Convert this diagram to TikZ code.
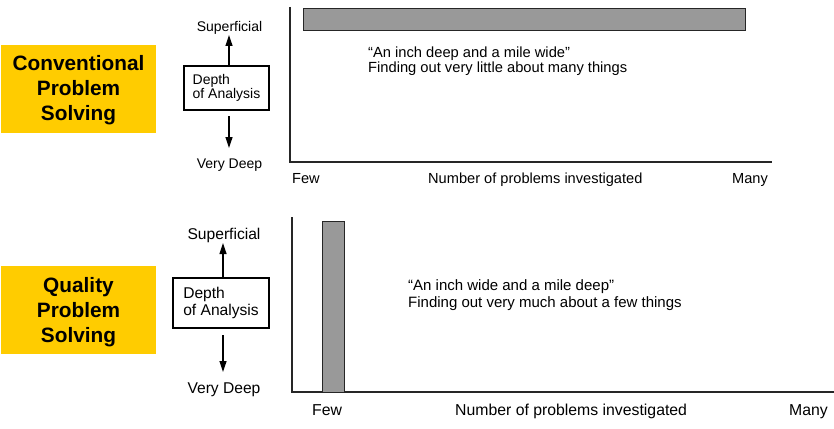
\documentclass[tikz,border=0pt]{standalone}
\usepackage{fontspec}
\setmainfont{Liberation Sans}
\usetikzlibrary{arrows.meta}
\definecolor{gold}{HTML}{FFCC00}
\definecolor{bargray}{HTML}{999999}
\begin{document}
\begin{tikzpicture}[x=1pt,y=-1pt,
  banner/.style={fill=gold, inner sep=0pt, align=center, text=black,
    font=\bfseries\fontsize{20.8}{25}\selectfont, minimum width=155pt, minimum height=88pt},
  depthbox/.style={draw=black, line width=1.1pt, inner sep=0pt, align=left},
  barbox/.style={draw=black!85, line width=1pt, fill=bargray, inner sep=0pt},
  txt/.style={inner sep=0pt, anchor=base},
  txtl/.style={inner sep=0pt, anchor=base west, align=left},
  axisline/.style={line width=1.5pt, black!85},
  depthArrow/.style={line width=1.2pt, -{Triangle[length=11pt,width=7pt]}},
  topfont/.style={font=\fontsize{14}{14}\selectfont},
  botfont/.style={font=\fontsize{15.6}{17}\selectfont}
]
\useasboundingbox (0,0) rectangle (834,428);

% ---------- Conventional problem solving ----------
\fill[gold] (1,45) rectangle (156,133);
\node[banner, fill=none] (convbanner) at (78.5,90.5) {Conventional\\Problem\\Solving};

\node[depthbox, topfont, minimum width=85pt, minimum height=44pt] (dtop) at (226.5,88) {Depth\\of Analysis};
\node[txt, topfont] (suptop) at (229.5,32) {Superficial};
\node[txt, topfont] (deeptop) at (229.5,168) {Very Deep};
\coordinate (suptopTip) at (229,35);
\coordinate (deeptopStart) at (229,116);
\coordinate (deeptopTip) at (229,148);
\draw[depthArrow] (dtop.north -| suptopTip) -- (suptopTip);
\draw[depthArrow] (deeptopStart) -- (deeptopTip);

\coordinate (topYtop) at (290,7);
\coordinate (topOrigin) at (290,162);
\coordinate (topXend) at (772,162);
\draw[axisline] (topYtop) -- (topOrigin) -- (topXend);

\node[barbox, minimum width=442pt, minimum height=22pt] (topbar) at (524,20) {};

% base anchor of a two-line node sits on the last line
\node[txtl, font=\fontsize{14.7}{15}\selectfont] (topquote) at (368,72)
  {“An inch deep and a mile wide”\\Finding out very little about many things};

\node[txtl, font=\fontsize{14.6}{15}\selectfont] (topfew) at (292,183) {Few};
\node[txtl, font=\fontsize{14.6}{15}\selectfont] (topnum) at (428,183) {Number of problems investigated};
\node[txtl, font=\fontsize{14.6}{15}\selectfont] (topmany) at (732,183) {Many};

% ---------- Quality problem solving ----------
\fill[gold] (1,266) rectangle (156,354);
\node[banner, fill=none] (qualbanner) at (78.5,312) {Quality\\Problem\\Solving};

\node[depthbox, botfont, minimum width=96pt, minimum height=50pt] (dbot) at (221,303) {Depth\\of Analysis};
\node[txt, botfont] (supbot) at (224,239) {Superficial};
\node[txt, botfont] (deepbot) at (224,393) {Very Deep};
\coordinate (supbotTip) at (223,243);
\coordinate (deepbotStart) at (223,335);
\coordinate (deepbotTip) at (223,372);
\draw[depthArrow] (dbot.north -| supbotTip) -- (supbotTip);
\draw[depthArrow] (deepbotStart) -- (deepbotTip);

\coordinate (botYtop) at (292,217);
\coordinate (botOrigin) at (292,392);
\coordinate (botXend) at (834,392);
\draw[axisline] (botYtop) -- (botOrigin) -- (botXend);

\node[barbox, minimum width=22pt, minimum height=171pt] (botbar) at (333,306.5) {};

\node[txtl, font=\fontsize{15}{17}\selectfont] (botquote) at (408,307)
  {“An inch wide and a mile deep”\\Finding out very much about a few things};

\node[txtl, font=\fontsize{15.8}{17}\selectfont] (botfew) at (312,415) {Few};
\node[txtl, font=\fontsize{15.8}{17}\selectfont] (botnum) at (455,415) {Number of problems investigated};
\node[txtl, font=\fontsize{15.8}{17}\selectfont] (botmany) at (789,415) {Many};
\end{tikzpicture}
\end{document}
